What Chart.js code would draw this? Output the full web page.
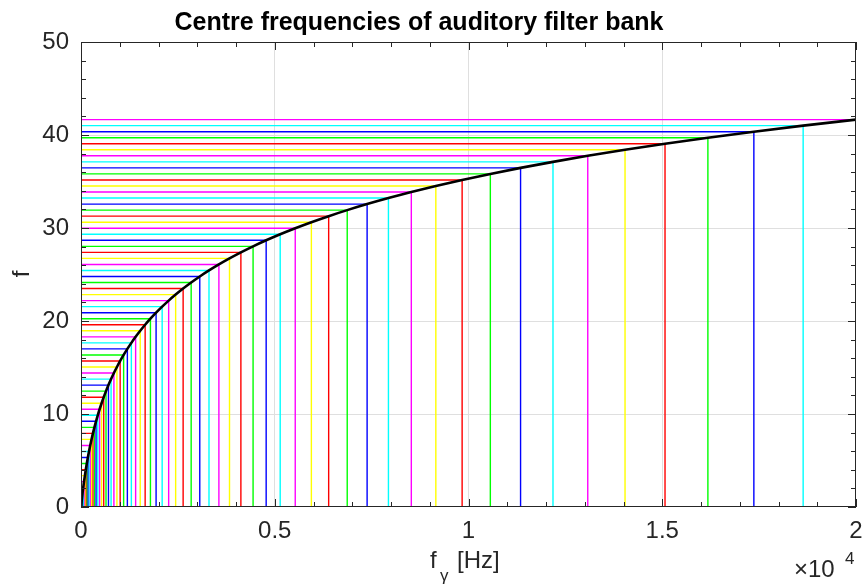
<!DOCTYPE html>
<html>
<head>
<meta charset="utf-8">
<title>Centre frequencies of auditory filter bank</title>
<script src="https://cdn.jsdelivr.net/npm/chart.js@4.4.1/dist/chart.umd.min.js"></script>
<style>
  html, body { margin: 0; padding: 0; background: #fff; }
  canvas { display: block; }
</style>
</head>
<body>
<canvas id="filterChart" width="862" height="588"></canvas>
<script>
// centre frequency of each of the 64 channels [Hz]
const channelFreqs = [20.0, 38.0, 57.3, 78.0, 100.2, 124.0, 149.5, 176.8, 206.1, 237.6,
    271.3, 307.5, 346.3, 387.8, 432.4, 480.2, 531.5, 586.5, 645.4, 708.6,
    776.4, 849.1, 927.1, 1010.6, 1100.3, 1196.4, 1299.4, 1409.9, 1528.4, 1655.4,
    1791.7, 1937.8, 2094.4, 2262.4, 2442.6, 2635.7, 2842.9, 3064.9, 3303.1, 3558.5,
    3832.3, 4126.0, 4440.8, 4778.5, 5140.5, 5528.8, 5945.1, 6391.5, 6870.2, 7383.5,
    7933.9, 8524.1, 9157.0, 9835.6, 10563.4, 11343.7, 12180.4, 13077.7, 14039.6, 15071.5,
    16177.8, 17364.1, 18636.2, 20000.0];

// matching value on the f axis (ERB number) for each channel
const channelErb = [0.779, 1.428, 2.076, 2.725, 3.374, 4.023, 4.672, 5.320, 5.969, 6.618,
    7.267, 7.916, 8.565, 9.213, 9.862, 10.511, 11.160, 11.809, 12.457, 13.106,
    13.755, 14.404, 15.053, 15.701, 16.350, 16.999, 17.648, 18.297, 18.946, 19.594,
    20.243, 20.892, 21.541, 22.190, 22.838, 23.487, 24.136, 24.785, 25.434, 26.083,
    26.731, 27.380, 28.029, 28.678, 29.327, 29.975, 30.624, 31.273, 31.922, 32.571,
    33.220, 33.868, 34.517, 35.166, 35.815, 36.464, 37.112, 37.761, 38.410, 39.059,
    39.708, 40.356, 41.005, 41.654];

// the black curve starts at the origin, then runs through the channels
const curveFreqs = [0].concat(channelFreqs);
const curveErb = [0].concat(channelErb);

const channelColours = ["#00ff00", "#0000ff", "#00ffff", "#ff00ff", "#ffff00", "#ff0000"];

const xMajorTicks = [0, 5000, 10000, 15000, 20000];
const yMajorTicks = [0, 10, 20, 30, 40, 50];

const textColour = "#262626";
const fontFamily = "'Liberation Sans', Arial, Helvetica, sans-serif";

Chart.defaults.font.family = fontFamily;

// one dataset per channel: horizontal line to the centre frequency, then down to the axis
const datasets = channelFreqs.map((fc, i) => ({
    label: "ch " + (i + 1),
    data: [{ x: 0, y: channelErb[i] }, { x: fc, y: channelErb[i] }, { x: fc, y: 0 }],
    showLine: true,
    borderColor: channelColours[i % channelColours.length],
    borderWidth: 1.4,
    pointRadius: 0,
    tension: 0,
    fill: false
}));

datasets.push({
    label: "ERB rate",
    data: curveFreqs.map((f, i) => ({ x: f, y: curveErb[i] })),
    showLine: true,
    borderColor: "#000000",
    borderWidth: 2.6,
    pointRadius: 0,
    cubicInterpolationMode: "monotone",
    fill: false,
    order: -1
});

// box, inward ticks and the text MATLAB puts round the axes
const axesDecor = {
    id: "axesDecor",
    afterDraw(chart) {
        const ctx = chart.ctx;
        const a = chart.chartArea;
        const xs = chart.scales.x;
        const ys = chart.scales.y;
        ctx.save();
        ctx.strokeStyle = textColour;
        ctx.lineWidth = 1;
        ctx.beginPath();
        xs.ticks.forEach(t => {
            const px = Math.round(xs.getPixelForValue(t.value)) + 0.5;
            const len = xMajorTicks.includes(t.value) ? 8 : 5;
            ctx.moveTo(px, a.bottom); ctx.lineTo(px, a.bottom - len);
            ctx.moveTo(px, a.top); ctx.lineTo(px, a.top + len);
        });
        ys.ticks.forEach(t => {
            const py = Math.round(ys.getPixelForValue(t.value)) + 0.5;
            const len = yMajorTicks.includes(t.value) ? 8 : 5;
            ctx.moveTo(a.left, py); ctx.lineTo(a.left + len, py);
            ctx.moveTo(a.right, py); ctx.lineTo(a.right - len, py);
        });
        ctx.stroke();
        ctx.strokeRect(Math.round(a.left) + 0.5, Math.round(a.top) + 0.5,
            Math.round(a.right) - Math.round(a.left) - 1, Math.round(a.bottom) - Math.round(a.top) - 1);

        ctx.fillStyle = "#000000";
        ctx.textBaseline = "alphabetic";
        ctx.textAlign = "center";
        ctx.font = "bold 25px " + fontFamily;
        ctx.fillText("Centre frequencies of auditory filter bank", 419, 30);

        ctx.fillStyle = textColour;
        // y label
        ctx.save();
        ctx.translate(29, 274);
        ctx.rotate(-Math.PI / 2);
        ctx.font = "24px " + fontFamily;
        ctx.fillText("f", 0, 0);
        ctx.restore();

        // x label: f with subscript gamma
        ctx.textAlign = "left";
        ctx.font = "24px " + fontFamily;
        ctx.fillText("f", 430, 568);
        ctx.font = "17px " + fontFamily;
        ctx.fillText("\u03b3", 440, 581);
        ctx.font = "24px " + fontFamily;
        ctx.fillText("[Hz]", 457, 568);

        // axis multiplier
        ctx.fillText("\u00d710", 794, 577);
        ctx.font = "17px " + fontFamily;
        ctx.fillText("4", 845, 564);
        ctx.restore();
    }
};

new Chart(document.getElementById("filterChart"), {
    type: "scatter",
    data: { datasets: datasets },
    options: {
        responsive: false,
        animation: false,
        layout: { padding: { top: 42, left: 0, right: 0, bottom: 0 } },
        plugins: {
            legend: { display: false },
            tooltip: { enabled: false },
            title: { display: false }
        },
        scales: {
            x: {
                type: "linear",
                min: 0,
                max: 20000,
                afterFit(scale) {
                    scale.height = 81;
                    scale.paddingLeft = 0;
                    scale.paddingRight = 6;
                },
                border: { display: false },
                grid: {
                    drawTicks: false,
                    color: c => (c.tick && [5000, 10000, 15000].includes(c.tick.value)) ? "#dfdfdf" : "rgba(0,0,0,0)"
                },
                ticks: {
                    stepSize: 1000,
                    autoSkip: false,
                    maxRotation: 0,
                    padding: 10,
                    color: textColour,
                    font: { size: 24 },
                    callback: v => xMajorTicks.includes(v) ? String(v / 10000) : ""
                }
            },
            y: {
                type: "linear",
                min: 0,
                max: 50,
                afterFit(scale) {
                    scale.width = 81;
                    scale.paddingTop = 0;
                    scale.paddingBottom = 0;
                },
                border: { display: false },
                grid: {
                    drawTicks: false,
                    color: c => (c.tick && [10, 20, 30, 40].includes(c.tick.value)) ? "#dfdfdf" : "rgba(0,0,0,0)"
                },
                ticks: {
                    stepSize: 2,
                    autoSkip: false,
                    padding: 12,
                    color: textColour,
                    font: { size: 24 },
                    callback: v => yMajorTicks.includes(v) ? String(v) : ""
                }
            }
        }
    },
    plugins: [axesDecor]
});
</script>
</body>
</html>
